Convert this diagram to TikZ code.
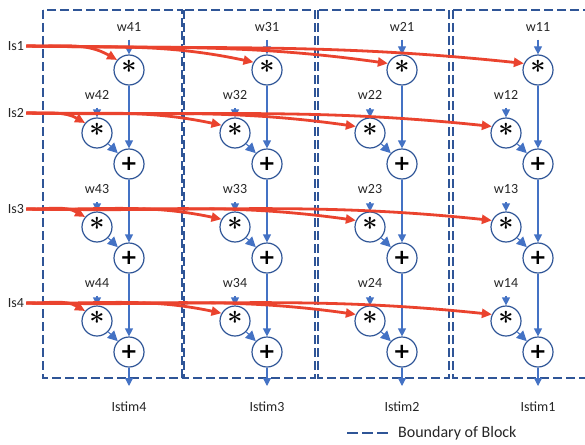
\documentclass[tikz,border=0pt]{standalone}
\usepackage{fontspec}
\setmainfont{Carlito}
\newfontfamily\opfont{Latin Modern Roman}
\newfontfamily\addfont{DejaVu Sans}
\usetikzlibrary{arrows.meta}

\definecolor{lineblue}{RGB}{68,114,196}
\definecolor{boxblue}{RGB}{47,85,151}
\definecolor{feedred}{RGB}{234,67,46}
\definecolor{labelgray}{RGB}{38,38,38}

\tikzset{
  lbl/.style={font=\fontsize{14}{16}\selectfont, text=labelgray, inner sep=2pt},
  op/.style={circle, draw=boxblue, line width=1.2pt, fill=white, minimum size=30pt, inner sep=0pt},
  mul/.style={op, font=\opfont\bfseries\fontsize{27}{27}\selectfont},
  add/.style={op, font=\addfont\bfseries\fontsize{21}{21}\selectfont},
  flow/.style={draw=lineblue, line width=1.2pt, -{Triangle[width=8pt,length=8pt]}},
  feed/.style={draw=feedred, line width=2.8pt, -{Triangle[width=9pt,length=10pt]}},
  blockbox/.style={draw=boxblue, line width=1.2pt, dash pattern=on 9pt off 4pt},
}

\begin{document}
\begin{tikzpicture}[x=1pt,y=-1pt]
  \useasboundingbox (0,0) rectangle (585,444);
  % block boundaries
  \foreach \b/\L/\R in {4/43/182,3/184/315,2/318/449,1/453/590}
    \draw[blockbox] (\L,10) rectangle (\R,378);
  % inputs
  \foreach \r/\y in {1/46,2/113,3/209,4/303}
    \node[lbl] (is\r) at (16,\y) {Is\r};
  % one column of multipliers and adders per block
  \foreach \b/\X in {4/129,3/267,2/402,1/538} {
    \node[mul] (m\b1) at (\X,70) {*};
    \node[lbl] (w\b1) at (\X,27) {w\b1};
    \draw[flow, shorten <=6pt] (w\b1) -- (m\b1);
    \foreach \r in {2,3,4} {
      \pgfmathsetmacro{\Y}{133+94*(\r-2)}
      \node[mul] (m\b\r) at (\X-32,\Y) {*};
      \node[add] (p\b\r) at (\X,\Y+31) {+};
      \node[lbl] (w\b\r) at (\X-32,\Y-38) {w\b\r};
      \draw[flow, shorten <=6pt] (w\b\r) -- (m\b\r);
      \draw[flow, -{Triangle[width=10pt,length=10pt]}] (m\b\r) -- (p\b\r);
    }
    \draw[flow] (m\b1) -- (p\b2);
    \draw[flow] (p\b2) -- (p\b3);
    \draw[flow] (p\b3) -- (p\b4);
    \coordinate (o\b) at (\X,386);
    \draw[flow] (p\b4) -- (o\b);
    \node[lbl] (istim\b) at (\X,407) {Istim\b};
  }
  % inputs fed to every block
  \foreach \r in {1,...,4}
    \foreach \b/\a/\t in {4/150/140,3/168/150,2/172/155,1/174/155}
      \draw[feed] (is\r.east) to[out=-1,in=\a] (m\b\r.\t);
  % legend
  \coordinate (lega) at (347,433);
  \coordinate (legb) at (389,433);
  \draw[blockbox, dash pattern=on 11pt off 4pt] (lega) -- (legb);
  \node[lbl, font=\fontsize{16}{18}\selectfont, anchor=west] (legend) at (396,433) {Boundary of Block};
\end{tikzpicture}
\end{document}
